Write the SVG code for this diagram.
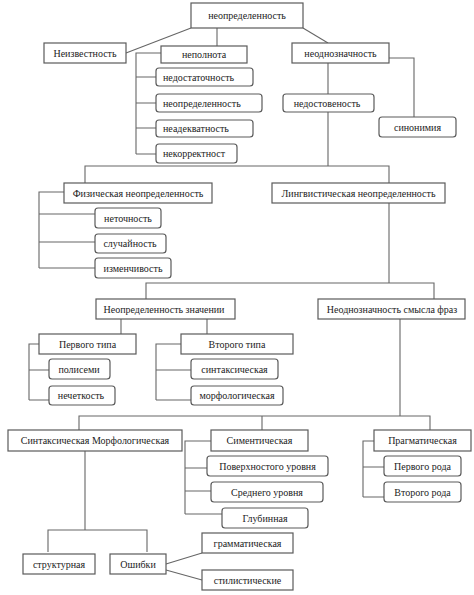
<svg xmlns="http://www.w3.org/2000/svg" width="474" height="595" viewBox="0 0 474 595">
<style>
.b{fill:#fff;stroke:#5a5a5a;stroke-width:1.2}
.r{fill:#fff;stroke:#5a5a5a;stroke-width:1.2}
.t{font-family:"Liberation Serif","Times New Roman",serif;font-size:10px;fill:#222;text-anchor:middle}
.ts{font-family:"Liberation Serif","Times New Roman",serif;font-size:10px;fill:#222;text-anchor:start}
.c{fill:none;stroke:#666;stroke-width:1.1}
</style>
<rect width="474" height="595" fill="#fff"/>
<g id="connectors" class="c">
<path d="M191,28 L126,53"/>
<path d="M303,28 L328,43"/>
<path d="M217,28 V46"/>
<path d="M161,53 H136 V154 M136,77 H156 M136,103 H156 M136,128 H156 M136,154 H156"/>
<path d="M389,58 H414 V117"/>
<path d="M328,63 V94 M328,112 V166"/>
<path d="M85,183 V166 H389 V183"/>
<path d="M64,192 H39 V268 M39,214 H95 M39,242 H95 M39,268 H95"/>
<path d="M389,203 V283"/>
<path d="M146,299 V283 H434 V299"/>
<path d="M121,319 V334 M207,319 V334"/>
<path d="M39,344 H29 V400 M29,370 H49 M29,400 H49"/>
<path d="M181,344 H156 V400 M156,370 H191 M156,400 H191"/>
<path d="M400,319 V416"/>
<path d="M79,430 V416 H430 V430 M262,416 V430"/>
<path d="M211,441 H185 V514 M185,468 H207 M185,491 H211 M185,514 H222"/>
<path d="M374,441 H363 V497 M363,467 H384 M363,497 H384"/>
<path d="M85,451 V530 M48,552 V530 H147 V552"/>
<path d="M166,564 L202,553 M166,570 L202,580"/>
</g>
<g id="n-root"><rect class="b" x="191" y="3" width="112" height="25"/><text class="t" x="247" y="19">неопределенность</text></g>
<g id="n-neizv"><rect class="b" x="44" y="43" width="82" height="20"/><text class="t" x="85" y="56.5">Неизвестность</text></g>
<g id="n-nepoln"><rect class="b" x="161" y="46" width="86" height="17"/><text class="t" x="204" y="58">неполнота</text></g>
<g id="n-nedost"><rect class="r" x="156" y="68" width="97" height="18" rx="3"/><text class="ts" x="163" y="80.5">недостаточность</text></g>
<g id="n-neopr2"><rect class="r" x="156" y="94" width="106" height="18" rx="3"/><text class="ts" x="163" y="106.5">неопределенность</text></g>
<g id="n-neadek"><rect class="r" x="156" y="120" width="97" height="17" rx="3"/><text class="ts" x="163" y="132">неадекватность</text></g>
<g id="n-nekorr"><rect class="r" x="156" y="144" width="81" height="19" rx="3"/><text class="ts" x="163" y="157">некорректност</text></g>
<g id="n-neodn"><rect class="b" x="292" y="43" width="97" height="20"/><text class="t" x="340.5" y="56.5">неоднозначность</text></g>
<g id="n-nedostov"><rect class="r" x="283" y="94" width="91" height="18" rx="3"/><text class="t" x="327" y="106.5">недостовеность</text></g>
<g id="n-sinon"><rect class="r" x="379" y="117" width="77" height="20" rx="3"/><text class="t" x="417.5" y="130.5">синонимия</text></g>
<g id="n-fiz"><rect class="b" x="64" y="183" width="148" height="20"/><text class="t" x="138" y="196.5">Физическая неопределенность</text></g>
<g id="n-ling"><rect class="b" x="272" y="183" width="173" height="20"/><text class="t" x="358.5" y="196.5">Лингвистическая неопределенность</text></g>
<g id="n-netoch"><rect class="r" x="95" y="208" width="66" height="20" rx="3"/><text class="t" x="128" y="221.5">неточность</text></g>
<g id="n-sluch"><rect class="r" x="95" y="234" width="71" height="19" rx="3"/><text class="t" x="130" y="247">случайность</text></g>
<g id="n-izm"><rect class="r" x="95" y="258" width="76" height="20" rx="3"/><text class="t" x="133" y="271.5">изменчивость</text></g>
<g id="n-znach"><rect class="b" x="96" y="299" width="139" height="20"/><text class="t" x="164" y="312.5">Неопределенность значении</text></g>
<g id="n-fraz"><rect class="b" x="318" y="299" width="147" height="20"/><text class="t" x="392" y="312.5">Неоднозначность смысла фраз</text></g>
<g id="n-perv"><rect class="b" x="39" y="334" width="97" height="20"/><text class="t" x="87.5" y="347.5">Первого типа</text></g>
<g id="n-vtor"><rect class="b" x="181" y="334" width="112" height="20"/><text class="t" x="237" y="347.5">Второго типа</text></g>
<g id="n-polis"><rect class="r" x="49" y="359" width="61" height="20" rx="3"/><text class="t" x="79" y="372.5">полисеми</text></g>
<g id="n-nechet"><rect class="r" x="49" y="386" width="66" height="19" rx="3"/><text class="t" x="81" y="399">нечеткость</text></g>
<g id="n-sint"><rect class="r" x="191" y="359" width="87" height="20" rx="3"/><text class="t" x="234.5" y="372.5">синтаксическая</text></g>
<g id="n-morf"><rect class="r" x="191" y="386" width="92" height="19" rx="3"/><text class="t" x="237" y="399">морфологическая</text></g>
<g id="n-sm"><rect class="b" x="8" y="430" width="174" height="21"/><text class="t" x="95" y="444">Синтаксическая Морфологическая</text></g>
<g id="n-sem"><rect class="b" x="211" y="430" width="97" height="21"/><text class="t" x="259.5" y="444">Симентическая</text></g>
<g id="n-prag"><rect class="b" x="374" y="430" width="97" height="21"/><text class="t" x="422.5" y="444">Прагматическая</text></g>
<g id="n-pov"><rect class="r" x="207" y="456" width="121" height="20" rx="3"/><text class="t" x="267.5" y="469.5">Поверхностого уровня</text></g>
<g id="n-sred"><rect class="r" x="211" y="482" width="112" height="20" rx="3"/><text class="t" x="267" y="495.5">Среднего уровня</text></g>
<g id="n-glub"><rect class="r" x="222" y="508" width="86" height="20" rx="3"/><text class="t" x="265" y="521.5">Глубинная</text></g>
<g id="n-rod1"><rect class="r" x="384" y="456" width="77" height="20" rx="3"/><text class="t" x="422.5" y="469.5">Первого рода</text></g>
<g id="n-rod2"><rect class="r" x="384" y="482" width="77" height="20" rx="3"/><text class="t" x="422.5" y="495.5">Второго рода</text></g>
<g id="n-strukt"><rect class="b" x="23" y="554" width="72" height="20"/><text class="t" x="59" y="567.5">структурная</text></g>
<g id="n-osh"><rect class="b" x="110" y="554" width="56" height="20"/><text class="t" x="138" y="567.5">Ошибки</text></g>
<g id="n-gram"><rect class="b" x="202" y="533" width="91" height="20"/><text class="t" x="247.5" y="546.5">грамматическая</text></g>
<g id="n-stil"><rect class="b" x="202" y="570" width="91" height="20"/><text class="t" x="247.5" y="583.5">стилистические</text></g>
</svg>
